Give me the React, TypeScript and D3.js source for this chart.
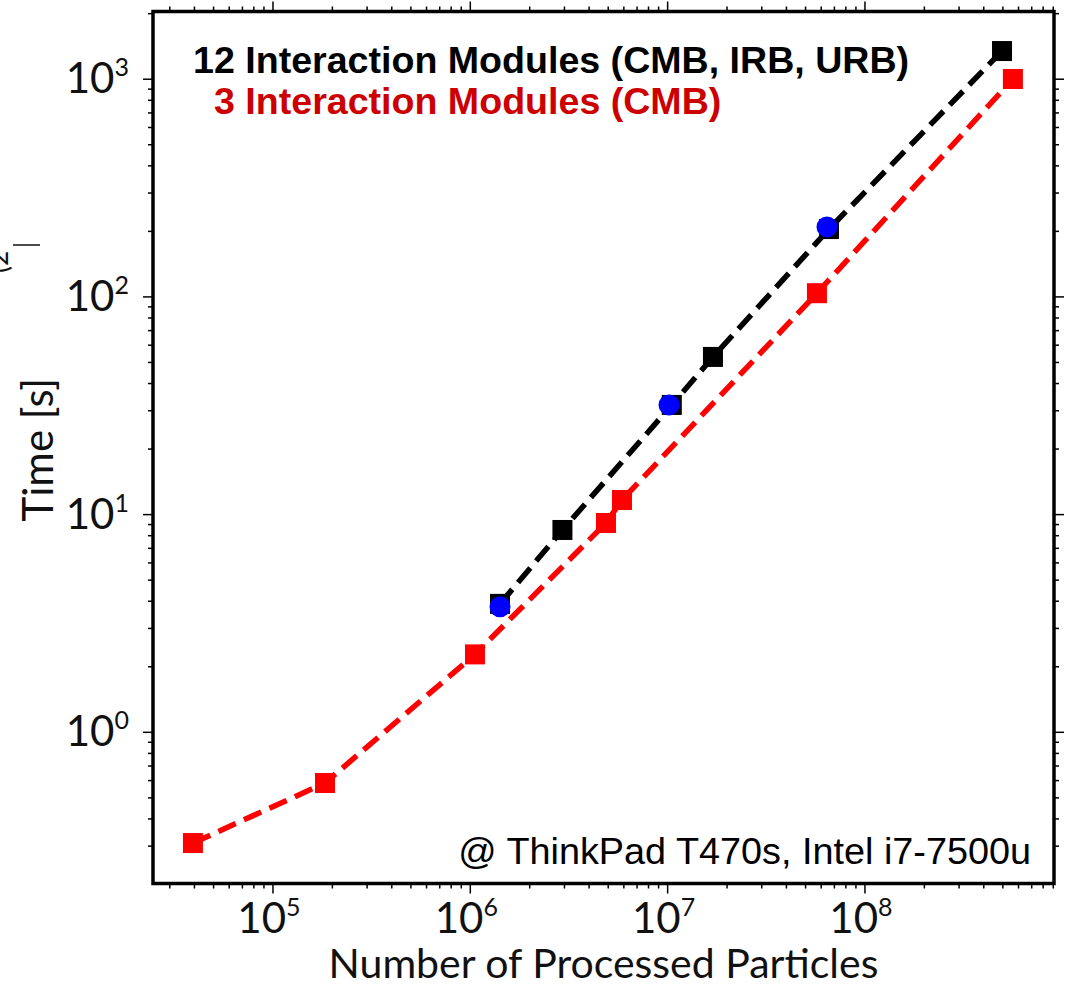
import React, { useEffect, useRef } from "react";
import * as d3 from "d3";

// 3 Interaction Modules (CMB)
const redParticles = [3.93e4, 1.835e5, 1.056e6, 4.87e6, 5.87e6, 5.71e7, 5.62e8];
const redTimes = [0.31, 0.585, 2.28, 9.15, 11.67, 104, 1002];

// 12 Interaction Modules (CMB, IRB, URB)
const blackParticles = [1.414e6, 2.93e6, 1.05e7, 1.697e7, 6.57e7, 4.95e8];
const blackTimes = [3.89, 8.5, 31.9, 53, 205, 1347];

// blue circles on top of the black series
const blueParticles = [1.414e6, 1.016e7, 6.42e7];
const blueTimes = [3.77, 31.9, 209.6];

const xMajorTicks = [1e5, 1e6, 1e7, 1e8];
const yMajorTicks = [1, 10, 100, 1000];
const xTickExp = ["5", "6", "7", "8"];
const yTickExp = ["0", "1", "2", "3"];

const W = 1065;
const H = 987;
const margin = { top: 11.5, right: 11, bottom: 103.5, left: 153 };
const width = W - margin.left - margin.right;
const height = H - margin.top - margin.bottom;

const labelFont = "Lato, 'DejaVu Sans', sans-serif";
const legendFont = "'Liberation Sans', Arial, sans-serif";

export default function App() {
  const svgRef = useRef<SVGSVGElement>(null);

  useEffect(() => {
    const svg = d3.select(svgRef.current);
    svg.selectAll("*").remove();

    const x = d3.scaleLog().domain([Math.pow(10, 4.392), Math.pow(10, 8.958)]).range([0, width]);
    const y = d3.scaleLog().domain([Math.pow(10, -0.6945), Math.pow(10, 3.311)]).range([height, 0]);

    svg.append("rect").attr("width", W).attr("height", H).attr("fill", "white");

    const g = svg.append("g").attr("transform", `translate(${margin.left},${margin.top})`);

    // ticks on all four sides, pointing outward
    const xTicks = x.ticks();
    const yTicks = y.ticks();
    const isMajor = (v: number) => Math.abs(Math.log10(v) - Math.round(Math.log10(v))) < 1e-6;

    const tickG = g.append("g").attr("stroke", "black").attr("stroke-width", 1.5);
    xTicks.forEach((t) => {
      const len = isMajor(t) ? 10 : 5;
      const px = x(t);
      tickG.append("line").attr("x1", px).attr("x2", px).attr("y1", height).attr("y2", height + len);
      tickG.append("line").attr("x1", px).attr("x2", px).attr("y1", 0).attr("y2", -len);
    });
    yTicks.forEach((t) => {
      const len = isMajor(t) ? 10 : 5;
      const py = y(t);
      tickG.append("line").attr("x1", 0).attr("x2", -len).attr("y1", py).attr("y2", py);
      tickG.append("line").attr("x1", width).attr("x2", width + len).attr("y1", py).attr("y2", py);
    });

    // tick labels 10^n
    xMajorTicks.forEach((t, i) => {
      const txt = g.append("text")
        .attr("x", x(t) - 4)
        .attr("y", height + 49)
        .attr("text-anchor", "middle")
        .attr("font-family", labelFont)
        .attr("font-size", 42)
        .attr("fill", "#111");
      txt.append("tspan").text("10");
      txt.append("tspan").attr("dy", -17).attr("font-size", 25).text(xTickExp[i]);
    });
    yMajorTicks.forEach((t, i) => {
      const txt = g.append("text")
        .attr("x", -24)
        .attr("y", y(t) + 14)
        .attr("text-anchor", "end")
        .attr("font-family", labelFont)
        .attr("font-size", 42)
        .attr("fill", "#111");
      txt.append("tspan").text("10");
      txt.append("tspan").attr("dy", -17).attr("font-size", 25).text(yTickExp[i]);
    });

    // axis titles
    svg.append("text")
      .attr("x", margin.left + width / 2)
      .attr("y", 978)
      .attr("text-anchor", "middle")
      .attr("font-family", labelFont)
      .attr("font-size", 41)
      .attr("fill", "#111")
      .text("Number of Processed Particles");

    svg.append("text")
      .attr("transform", `translate(53,${margin.top + y(10) - 65}) rotate(-90)`)
      .attr("text-anchor", "middle")
      .attr("font-family", labelFont)
      .attr("font-size", 42)
      .attr("fill", "#111")
      .text("Time [s]");

    // leftover label fragment at the left edge
    svg.append("text")
      .attr("transform", `translate(8,262) rotate(-90)`)
      .attr("text-anchor", "middle")
      .attr("font-family", labelFont)
      .attr("font-size", 26)
      .attr("fill", "#111")
      .text("(2");
    svg.append("line")
      .attr("x1", 13).attr("x2", 40).attr("y1", 245).attr("y2", 245)
      .attr("stroke", "#111").attr("stroke-width", 1.5);

    const line = d3.line<[number, number]>().x((d) => x(d[0])).y((d) => y(d[1]));
    const markerSize = 20;

    function drawSeries(xs: number[], ys: number[], color: string) {
      const pts: [number, number][] = xs.map((v, i) => [v, ys[i]]);
      g.append("path")
        .datum(pts)
        .attr("d", line)
        .attr("fill", "none")
        .attr("stroke", color)
        .attr("stroke-width", 5.5)
        .attr("stroke-dasharray", "19 9");
      g.selectAll(null)
        .data(pts)
        .enter()
        .append("rect")
        .attr("x", (d) => x(d[0]) - markerSize / 2)
        .attr("y", (d) => y(d[1]) - markerSize / 2)
        .attr("width", markerSize)
        .attr("height", markerSize)
        .attr("fill", color);
    }

    drawSeries(redParticles, redTimes, "#ff0000");
    drawSeries(blackParticles, blackTimes, "#000000");

    g.selectAll(null)
      .data(blueParticles.map((v, i) => [v, blueTimes[i]]))
      .enter()
      .append("circle")
      .attr("cx", (d) => x(d[0]))
      .attr("cy", (d) => y(d[1]))
      .attr("r", 10.5)
      .attr("fill", "#0000ff");

    // frame
    g.append("rect")
      .attr("width", width)
      .attr("height", height)
      .attr("fill", "none")
      .attr("stroke", "black")
      .attr("stroke-width", 3.5);

    // legend texts
    svg.append("text")
      .attr("x", 193)
      .attr("y", 73)
      .attr("font-family", legendFont)
      .attr("font-weight", "bold")
      .attr("font-size", 37.6)
      .attr("fill", "#000")
      .text("12 Interaction Modules (CMB, IRB, URB)");
    svg.append("text")
      .attr("x", 214)
      .attr("y", 114)
      .attr("font-family", legendFont)
      .attr("font-weight", "bold")
      .attr("font-size", 37.6)
      .attr("fill", "#cc0000")
      .text("3 Interaction Modules (CMB)");

    svg.append("text")
      .attr("x", 1031)
      .attr("y", 864)
      .attr("text-anchor", "end")
      .attr("font-family", legendFont)
      .attr("font-size", 37.8)
      .attr("fill", "#000")
      .text("@ ThinkPad T470s, Intel i7-7500u");
  }, []);

  return (
    <svg
      ref={svgRef}
      width={W}
      height={H}
      style={{ position: "absolute", left: 0, top: 0, display: "block" }}
    />
  );
}
